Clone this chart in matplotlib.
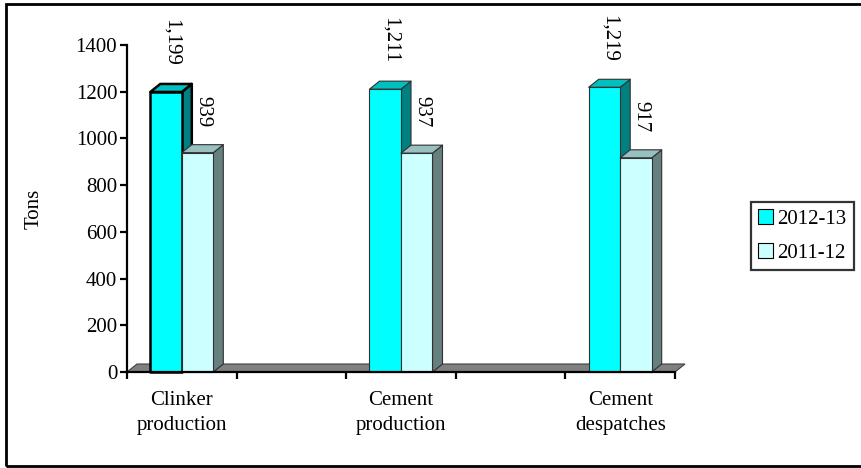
import matplotlib.pyplot as plt
from matplotlib.patches import Polygon, Rectangle, Patch

# ---------------- data ----------------
categories = ['Clinker\nproduction', 'Cement\nproduction', 'Cement\ndespatches']
series_names = ['2012-13', '2011-12']
tons_2012_13 = [1199, 1211, 1219]
tons_2011_12 = [939, 937, 917]
y_ticks = [0, 200, 400, 600, 800, 1000, 1200, 1400]

# face colours for each series: front, top, side
faces = {
    '2012-13': ('#00FFFF', '#00C0C0', '#008080'),
    '2011-12': ('#CCFFFF', '#99C0C0', '#668080'),
}

plt.rcParams['font.family'] = ['Liberation Serif', 'DejaVu Serif']
FS = 15

fig = plt.figure(figsize=(8.62, 4.68), dpi=100)
ax = fig.add_axes([127 / 862, 96 / 468, 548 / 862, 327 / 468])
x_lo, x_hi = -0.25, 2.25
ax.set_xlim(x_lo, x_hi)
ax.set_ylim(0, 1400)

# depth of the pseudo-3D extrusion, converted from pixels to data units
px_x = (x_hi - x_lo) / 548
px_y = 1400 / 327
ddx = 10 * px_x
ddy = 8 * px_y
bar_w = 31.5 * px_x


def draw_bar(x0, h, cols, lw, ec, z):
    front, top, side = cols
    x1 = x0 + bar_w
    kw = dict(linewidth=lw, edgecolor=ec, joinstyle='round', clip_on=False, zorder=z)
    ax.add_patch(Polygon([(x1, 0), (x1 + ddx, ddy), (x1 + ddx, h + ddy), (x1, h)],
                         facecolor=side, **kw))
    ax.add_patch(Polygon([(x0, h), (x1, h), (x1 + ddx, h + ddy), (x0 + ddx, h + ddy)],
                         facecolor=top, **kw))
    ax.add_patch(Rectangle((x0, 0), bar_w, h, facecolor=front, **kw))


# floor
ax.add_patch(Polygon([(x_lo, 0), (x_hi, 0), (x_hi + ddx, ddy), (x_lo + ddx, ddy)],
                     facecolor='#808080', edgecolor='#404040', linewidth=0.8,
                     clip_on=False, zorder=2))

for i in range(len(categories)):
    x_a = i - bar_w
    x_b = i
    # 2012-13 bar sits behind the 2011-12 bar's side
    if i == 0:
        draw_bar(x_a, tons_2012_13[i], faces['2012-13'], 1.8, 'black', 3)
    else:
        draw_bar(x_a, tons_2012_13[i], faces['2012-13'], 0.8, '#303030', 3)
    draw_bar(x_b, tons_2011_12[i], faces['2011-12'], 0.8, '#303030', 3.5)

    for x0, v in ((x_a, tons_2012_13[i]), (x_b, tons_2011_12[i])):
        ax.text(x0 + bar_w / 2 + ddx / 2, v + 110, f'{v:,}', rotation=270,
                ha='center', va='bottom', fontsize=FS, clip_on=False, zorder=4)

    ax.text(i, -19 * px_y, categories[i], ha='center', va='top', fontsize=FS,
            linespacing=1.45)

# axes styling
for s in ('top', 'right'):
    ax.spines[s].set_visible(False)
ax.spines['left'].set_linewidth(1.6)
ax.spines['bottom'].set_linewidth(1.6)
ax.spines['left'].set_zorder(5)
ax.spines['bottom'].set_zorder(5)
ax.set_yticks(y_ticks)
ax.set_yticklabels([str(t) for t in y_ticks], fontsize=FS)
ax.tick_params(axis='y', length=5, width=1.6, pad=2)
ax.set_xticks([x_lo + 0.5 * k for k in range(6)])
ax.set_xticklabels([])
ax.tick_params(axis='x', length=5, width=1.6)
ax.set_ylabel('Tons', fontsize=FS, labelpad=23)
ax.patch.set_alpha(0)

handles = [Patch(facecolor=faces[n][0], edgecolor='black', linewidth=0.8) for n in series_names]
leg = fig.legend(handles, series_names, loc='upper left',
                 bbox_to_anchor=(751 / 862, 1 - 202 / 468), fontsize=FS,
                 frameon=True, fancybox=False, handlelength=0.7, handleheight=0.7,
                 handletextpad=0.2, borderpad=0.35, labelspacing=0.7, borderaxespad=0)
leg.get_frame().set_edgecolor('black')
leg.get_frame().set_linewidth(1.6)

# outer frame
fig.patches.append(Rectangle((6 / 862, 2 / 468), 1.0, 1 - 6 / 468,
                             transform=fig.transFigure, fill=False,
                             edgecolor='black', linewidth=2))

fig.savefig('out.png', dpi=100)
